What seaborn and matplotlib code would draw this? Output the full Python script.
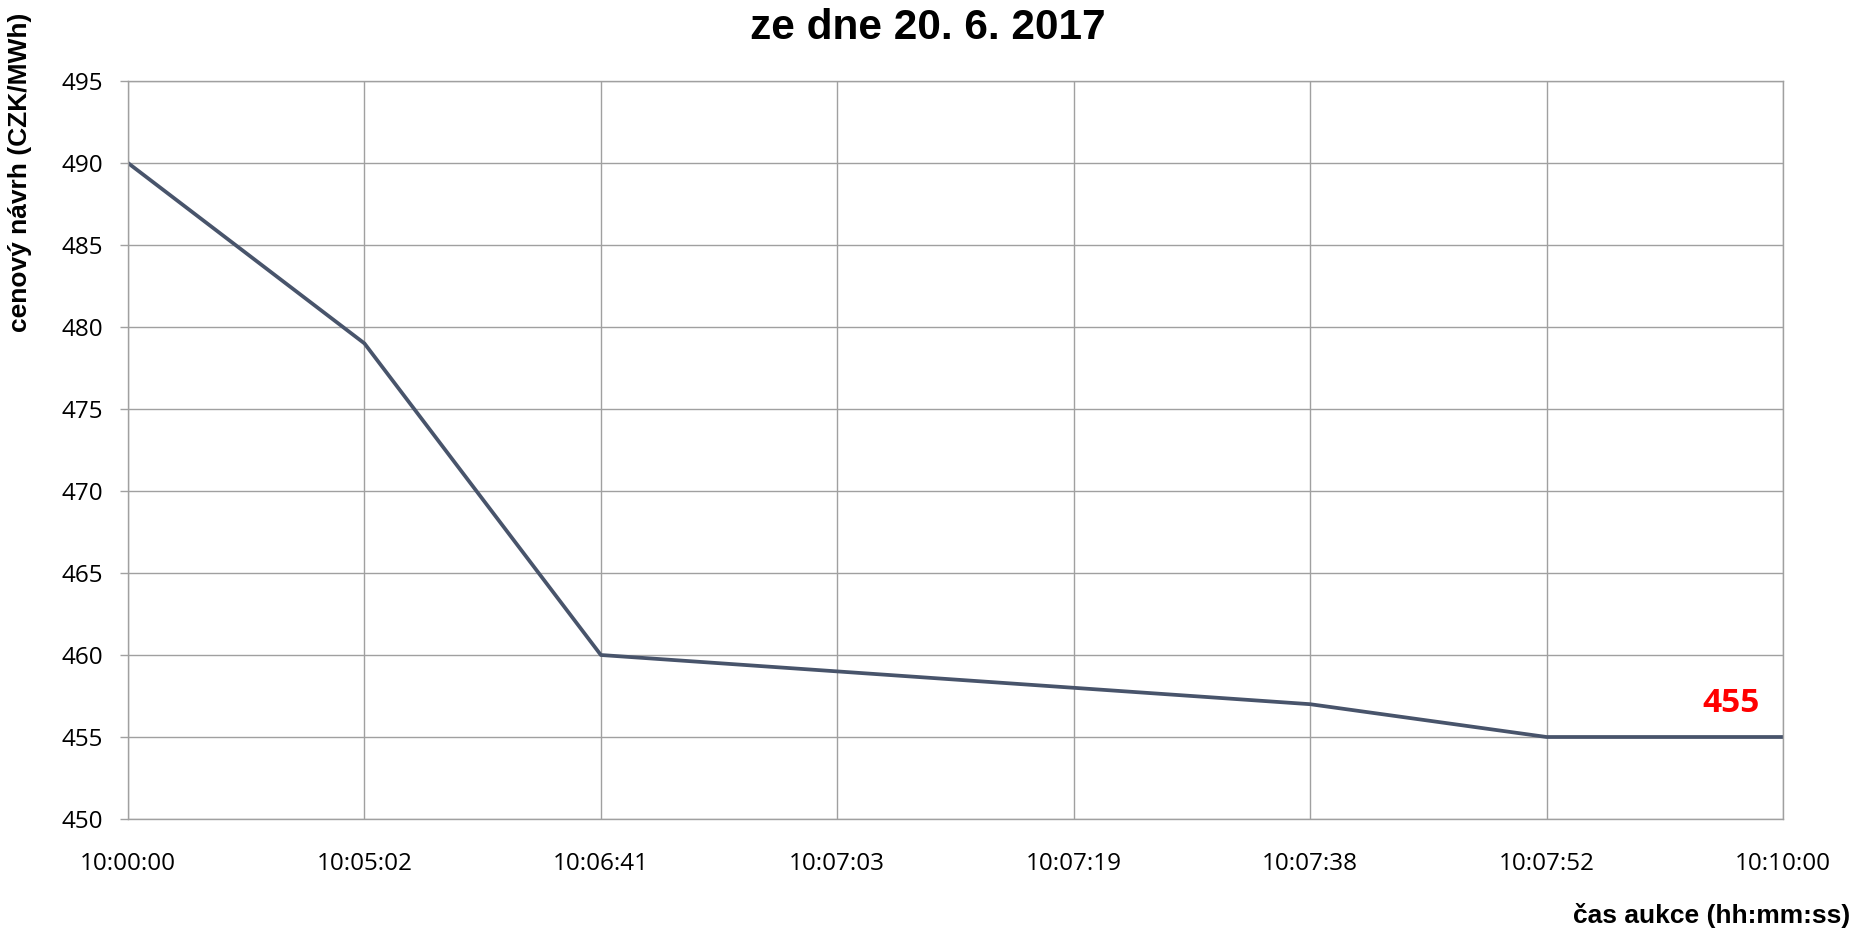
import numpy as np
import pandas as pd
import seaborn as sns
import matplotlib.pyplot as plt

times = ['10:00:00', '10:05:02', '10:06:41', '10:07:03', '10:07:19', '10:07:38', '10:07:52', '10:10:00']
prices = [490, 479, 460, 459, 458, 457, 455, 455]
final_price = 455
y_ticks = [450, 455, 460, 465, 470, 475, 480, 485, 490, 495]

df = pd.DataFrame({'pos': np.arange(len(times)), 'price': prices})

sns.set_style('white')
plt.rcParams['font.family'] = ['Open Sans', 'DejaVu Sans']
plt.rcParams['text.color'] = 'black'
plt.rcParams['xtick.color'] = 'black'
plt.rcParams['ytick.color'] = 'black'

fig = plt.figure(figsize=(18.56, 9.32), dpi=100)
ax = fig.add_axes([128 / 1856, 1 - 819 / 932, (1783 - 128) / 1856, (819 - 81) / 932])

sns.lineplot(data=df, x='pos', y='price', color='#48546b', linewidth=2.7, ax=ax, sort=False)

ax.set_xlim(0, len(times) - 1)
ax.set_ylim(450, 495)
ax.set_xticks(df['pos'])
ax.set_xticklabels(times)
ax.set_yticks(y_ticks)
ax.grid(True, color='#a0a0a0', linewidth=1.0)
ax.set_axisbelow(True)
for s in ax.spines.values():
    s.set_color('#a0a0a0')
    s.set_linewidth(1.0)
ax.tick_params(axis='y', length=5.8, width=1.0, color='#a0a0a0', labelcolor='black', pad=12, labelsize=17.5, left=True)
ax.tick_params(axis='x', length=0, pad=24, labelcolor='black', labelsize=17.5)
ax.set_xlabel('')
ax.set_ylabel('')

# final price label
ax.text(len(times) - 1.22, final_price + 1.5, str(final_price), color='#ff0000',
        fontsize=24, fontweight='bold', ha='center', va='baseline')

fig.text(0.5, 1 - 28 / 932, 'ze dne 20. 6. 2017', ha='center', va='center',
         fontsize=30.5, fontweight='bold', family='Liberation Sans', color='black')
fig.text(20 / 1856, 1 - 172 / 932, 'cenový návrh (CZK/MWh)', rotation=90, ha='center', va='center',
         fontsize=19, fontweight='bold', family='Liberation Sans', color='black')
fig.text(1850 / 1856, 1 - 915 / 932, 'čas aukce (hh:mm:ss)', ha='right', va='center',
         fontsize=19, fontweight='bold', family='Liberation Sans', color='black')

fig.savefig('out.png', dpi=100)
